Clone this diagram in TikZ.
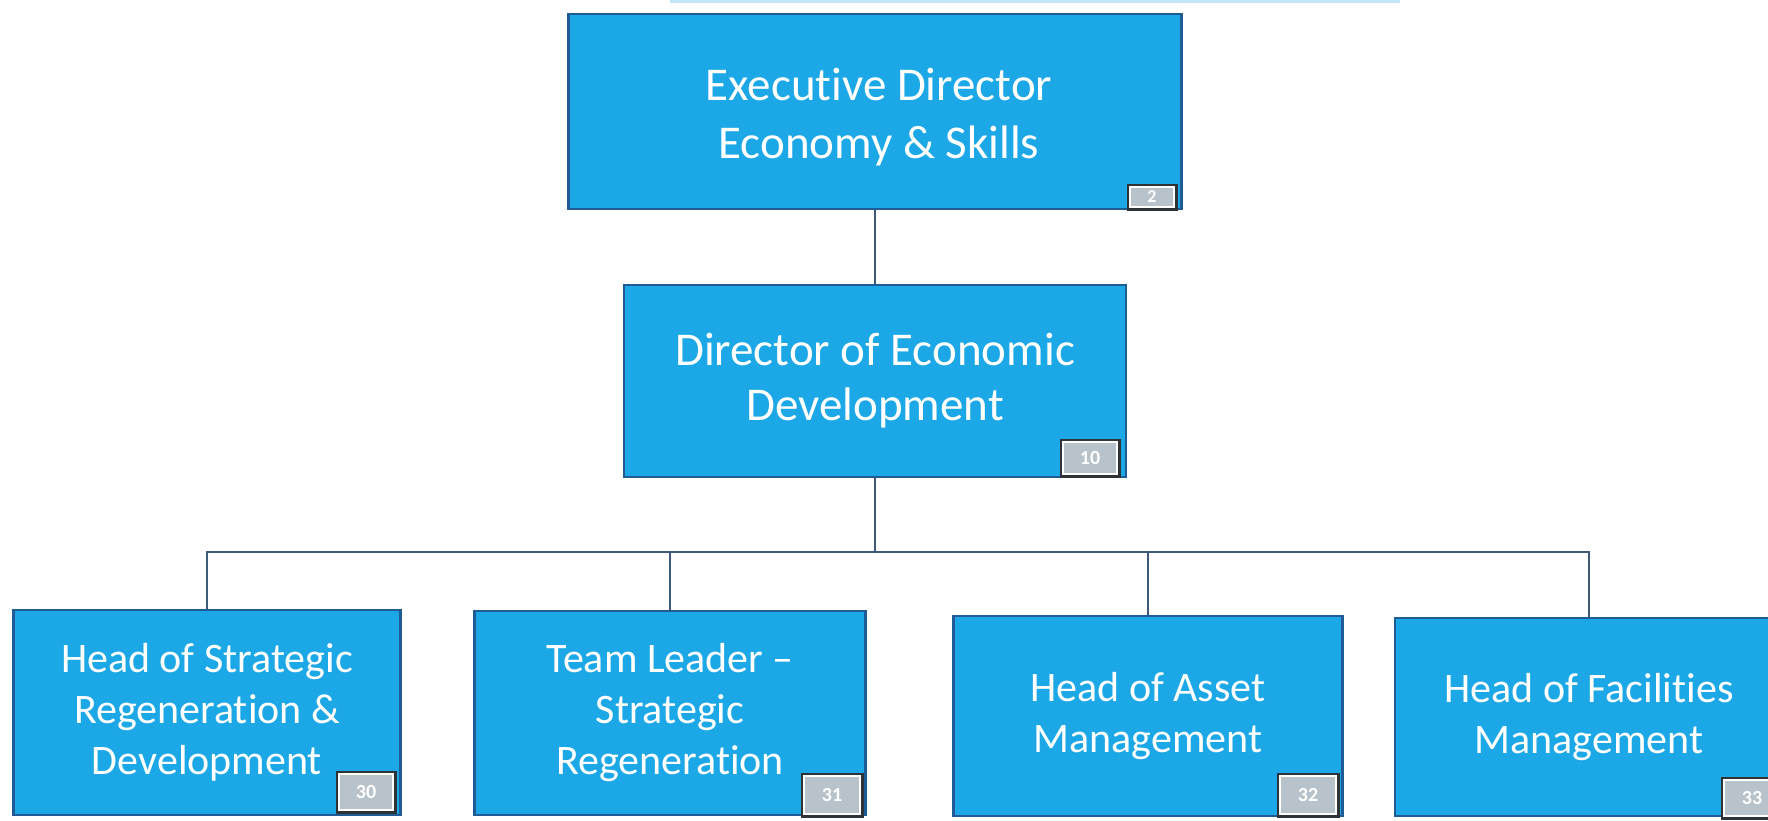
\documentclass[tikz,border=0pt]{standalone}
\usepackage{fontspec}
\setmainfont{Carlito}[Ligatures=NoCommon]
\definecolor{boxblue}{HTML}{1CA8E6}
\definecolor{edgeblue}{HTML}{1F5C96}
\definecolor{connc}{HTML}{3D5A78}
\definecolor{badgegray}{HTML}{B7C2CB}
\definecolor{badgedark}{HTML}{2E3338}
\definecolor{toplight}{HTML}{C2E6F5}
\begin{document}
\begin{tikzpicture}[x=1pt,y=-1pt,
  box/.style={draw=edgeblue, line width=2.2pt, fill=boxblue, text=white, align=center, inner sep=0pt},
  boxtext/.style={text=white, align=center, inner sep=0pt},
  bigtext/.style={font=\fontsize{47}{58}\selectfont},
  midtext/.style={font=\fontsize{47}{55}\selectfont},
  smalltext/.style={font=\fontsize{42}{51}\selectfont},
  badge/.style={preaction={draw=badgedark, line width=7pt}, draw=white, line width=2.5pt, fill=badgegray, text=white, inner sep=0pt, font=\fontsize{20}{20}\selectfont\bfseries},
  conn/.style={draw=connc, line width=1.8pt}]
\clip (0,0) rectangle (1768,820);
\draw[toplight, line width=3pt] (670,1.5) -- (1400,1.5);
% boxes
\node[box, minimum width=613pt, minimum height=195pt] (exec) at (875,111.5) {};
\node[boxtext, bigtext] (exectext) at (879,117) {Executive Director\\Economy \& Skills};
\node[box, midtext, minimum width=502pt, minimum height=192pt] (dir) at (875,381) {Director of Economic\\Development};
\node[box, smalltext, minimum width=387pt, minimum height=205pt] (h1) at (207,712.5) {Head of Strategic\\Regeneration \&\\Development};
\node[box, smalltext, minimum width=391pt, minimum height=204pt] (h2) at (670,713) {Team Leader –\\Strategic\\Regeneration};
\node[box, smalltext, minimum width=389pt, minimum height=200pt] (h3) at (1148,716) {Head of Asset\\Management};
\node[box, smalltext, minimum width=388pt, minimum height=198pt] (h4) at (1589,717) {Head of Facilities\\Management};
% badges
\node[badge, minimum width=44pt, minimum height=20pt, font=\fontsize{18}{18}\selectfont\bfseries] (bexec) at (1152,197) {2};
\node[badge, minimum width=54pt, minimum height=32pt] (bdir) at (1090,458) {10};
\node[badge, minimum width=54pt, minimum height=36pt] (bh1) at (366,792) {30};
\node[badge, minimum width=56pt, minimum height=38pt] (bh2) at (832,795) {31};
\node[badge, minimum width=56pt, minimum height=38pt] (bh3) at (1308,795) {32};
\node[badge, minimum width=56pt, minimum height=36pt] (bh4) at (1752,798) {33};
% connectors
\coordinate (bus) at (875,552);
\draw[conn] (exec.south) -- (dir.north);
\draw[conn] (dir.south) -- (bus);
\draw[conn] (h1.north) |- (bus) -| (h4.north);
\draw[conn] (h2.north) -- (h2.north |- bus);
\draw[conn] (h3.north) -- (h3.north |- bus);
\end{tikzpicture}
\end{document}
